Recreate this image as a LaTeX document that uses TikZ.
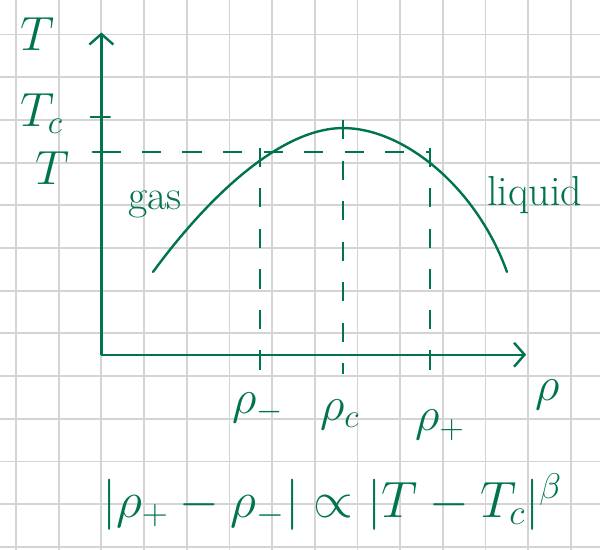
\documentclass[tikz,border=0pt]{standalone}
\usepackage{fix-cm}
\usepackage{amsmath, amssymb}
\usetikzlibrary{calc}
\usetikzlibrary{positioning}
\usetikzlibrary{arrows.meta}
\definecolor{ink}{RGB}{0,115,80}
\definecolor{paper}{RGB}{212,212,212}

\begin{document}
\begin{tikzpicture}[
		ax/.style = {draw=ink, line width=1.6pt, -{Straight Barb[length=7pt, width=16pt, line width=1.6pt]}},
		tk/.style = {draw=ink, line width=1.6pt, line cap=round},
		dsh/.style = {draw=ink, line width=1.6pt, dash pattern=on 0.45cm off 0.5cm},
		lb/.style = {text=ink, font=\fontsize{28}{30}\selectfont, inner sep=0pt},
		mb/.style = {text=ink, font=\fontsize{32}{34}\selectfont, inner sep=0pt}
		]
		\useasboundingbox (-0.375,-0.07) rectangle (13.68,12.81);
		
		%Grid
		\draw[paper, line width=1.2pt] (-0.375,-0.07) grid (13.68,12.81);
		
		%Points
		\coordinate (o)	at	(2,4.5);
		\coordinate (ytop)	at	(2,12.05);
		\coordinate (xend)	at	(11.95,4.5);
		\coordinate (tc)	at	(2,10.07);
		\coordinate (tt)	at	(2,9.25);
		\coordinate (rm)	at	(5.71,4.5);
		\coordinate (rc)	at	(7.66,4.5);
		\coordinate (rp)	at	(9.70,4.5);
		\coordinate (gl)	at	(3.21,6.44);
		\coordinate (top)	at	(7.66,9.81);
		\coordinate (lr)	at	(11.50,6.44);
		
		%Nodes
		\node[mb]	(Tax)	at	(0.5,12.0)	{$T$};
		\node[mb]	(Tcl)	at	(0.6,10.14)	{$T_c$};
		\node[mb]	(Tl)	at	(0.85,8.88)	{$T$};
		\node[lb]	(gas)	at	(3.26,8.01)	{gas};
		\node[lb]	(liq)	at	(12.15,8.24)	{liquid};
		\node[mb]	(lm)	at	(5.66,3.25)	{$\rho_-$};
		\node[mb]	(lc)	at	(7.58,3.1)	{$\rho_c$};
		\node[mb]	(lp)	at	(9.93,2.85)	{$\rho_+$};
		\node[mb]	(rax)	at	(12.46,3.56)	{$\rho$};
		\node[text=ink, font=\fontsize{34}{36}\selectfont, inner sep=0pt]	(law)	at	(7.4,1.05)	{$|\rho_+ - \rho_-| \propto |T - T_c|^{\beta}$};
		
		%Lines
		\draw[ax]	(o)	--	(ytop);
		\draw[ax]	(o)	--	(xend);
		\draw[tk]	($(tc)+(-0.25,0)$)	--	($(tc)+(0.2,0)$);
		\draw[tk]	($(tt)+(-0.2,0)$)	--	($(tt)+(0.35,0)$);
		\draw[dsh]	(tt)	--	($(rp)+(0,4.75)$);
		\draw[dsh]	($(rm)+(0,4.85)$)	--	($(rm)+(0,-0.35)$);
		\draw[dsh]	($(rc)+(0,5.5)$)	--	($(rc)+(0,-0.45)$);
		\draw[dsh]	($(rp)+(0,4.85)$)	--	($(rp)+(0,-0.35)$);
		\draw[tk]	(gl)	.. controls (4.5,8.2) and (6.2,9.81) ..	(top)
					.. controls (9.1,9.81) and (10.8,8.4) ..	(lr);
	\end{tikzpicture}
\end{document}
